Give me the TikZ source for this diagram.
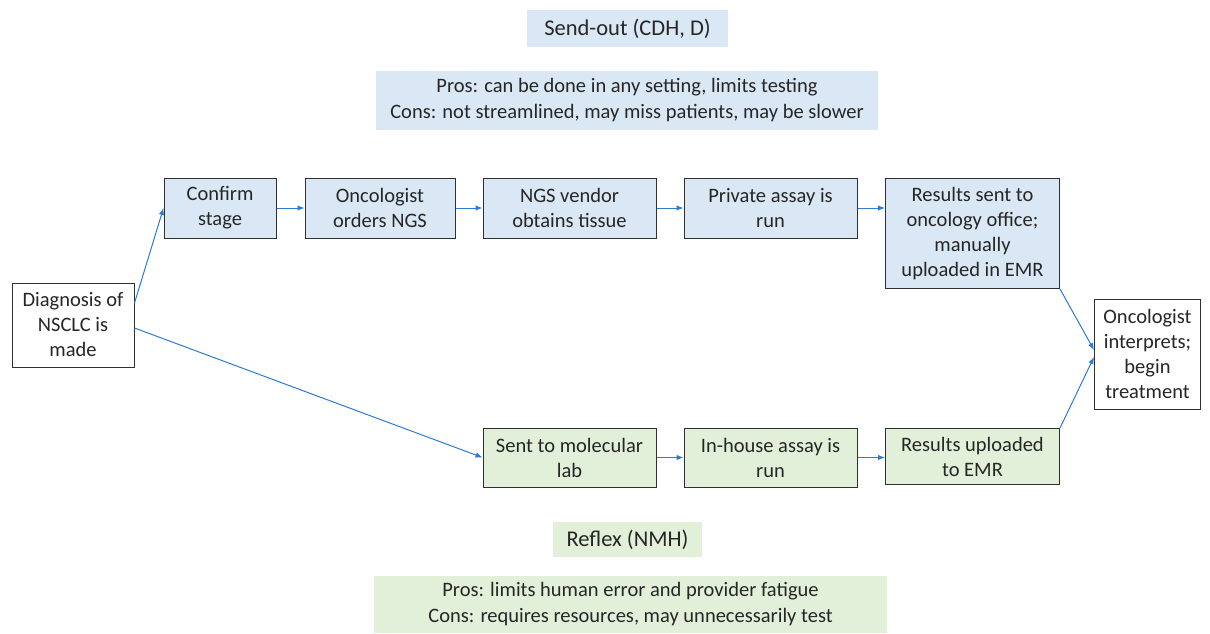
\documentclass[tikz,border=0pt]{standalone}
\usepackage{fontspec}
\setmainfont{Carlito}
\usetikzlibrary{positioning,arrows.meta}

\definecolor{sendblue}{HTML}{DAE8F5}
\definecolor{reflexgreen}{HTML}{E2F0D9}
\definecolor{arrowblue}{HTML}{2E7BD0}
\definecolor{boxline}{HTML}{303030}

\tikzset{
  stepbox/.style={draw=boxline,line width=1pt,align=center,inner sep=2pt,
    font=\fontsize{20.5}{25}\selectfont,text=black!85},
  sendbox/.style={stepbox,fill=sendblue},
  reflexbox/.style={stepbox,fill=reflexgreen},
  whitebox/.style={stepbox,fill=white},
  labelbox/.style={align=center,inner sep=2pt,font=\fontsize{20.5}{26}\selectfont,text=black!85},
  titlebox/.style={labelbox,font=\fontsize{22.5}{26}\selectfont},
  flow/.style={draw=arrowblue,line width=1pt,-{Latex[length=7pt,width=5.5pt]}}
}

\begin{document}
\begin{tikzpicture}[x=1pt,y=-1pt,node distance=27pt]
    \useasboundingbox (0,0) rectangle (1210,633);

    % headers
    \node[titlebox,fill=sendblue,minimum width=201pt,minimum height=37pt] (sendtitle) at (627.5,28.5) {Send-out (CDH, D)};
    \node[labelbox,fill=sendblue,minimum width=502pt,minimum height=59pt] (sendpc) at (627,100.5)
        {Pros: can be done in any setting, limits testing\\Cons: not streamlined, may miss patients, may be slower};
    \node[titlebox,fill=reflexgreen,minimum width=149pt,minimum height=35pt] (reflextitle) at (627.5,539.5) {Reflex (NMH)};
    \node[labelbox,fill=reflexgreen,minimum width=513pt,minimum height=57pt] (reflexpc) at (630.5,604.5)
        {Pros: limits human error and provider fatigue\\Cons: requires resources, may unnecessarily test};

    % send-out path
    \node[whitebox,minimum width=122pt,minimum height=84pt] (diag) at (73,325) {Diagnosis of\\NSCLC is\\made};
    \node[sendbox,minimum width=112pt,minimum height=60pt] (conf) at (220,208) {Confirm\\stage};
    \node[sendbox,minimum width=150pt,minimum height=60pt] (orders) [right=28pt of conf] {Oncologist\\orders NGS};
    \node[sendbox,minimum width=173pt,minimum height=60pt] (vendor) [right=of orders] {NGS vendor\\obtains tissue};
    \node[sendbox,minimum width=173pt,minimum height=60pt] (priv) [right=of vendor] {Private assay is\\run};
    \node[sendbox,minimum width=174pt,minimum height=110pt,anchor=north west] (sent) at (885,178)
        {Results sent to\\oncology office;\\manually\\uploaded in EMR};
    \node[whitebox,minimum width=106pt,minimum height=110pt] (onc) at (1147.5,354) {Oncologist\\interprets;\\begin\\treatment};

    % reflex path
    \node[reflexbox,minimum width=173pt,minimum height=59pt] (mol) at (569.5,457.5) {Sent to molecular\\lab};
    \node[reflexbox,minimum width=173pt,minimum height=59pt] (inh) [right=of mol] {In-house assay is\\run};
    \node[reflexbox,minimum width=174pt,minimum height=56pt,anchor=north west] (upl) at (885,428) {Results uploaded\\to EMR};

    \draw[flow] ([yshift=22pt]diag.east) -- (conf.west);
    \draw[flow] (conf) -- (orders);
    \draw[flow] (orders) -- (vendor);
    \draw[flow] (vendor) -- (priv);
    \draw[flow] (priv.east) -- (sent.west |- priv.east);
    \draw[flow] (sent.south east) -- ([yshift=4pt]onc.west);

    \draw[flow] ([yshift=-3pt]diag.east) -- (mol.west);
    \draw[flow] (mol) -- (inh);
    \draw[flow] (inh.east) -- (upl.west |- inh.east);
    \draw[flow] (upl.north east) -- ([yshift=-3pt]onc.west);

\end{tikzpicture}
\end{document}
